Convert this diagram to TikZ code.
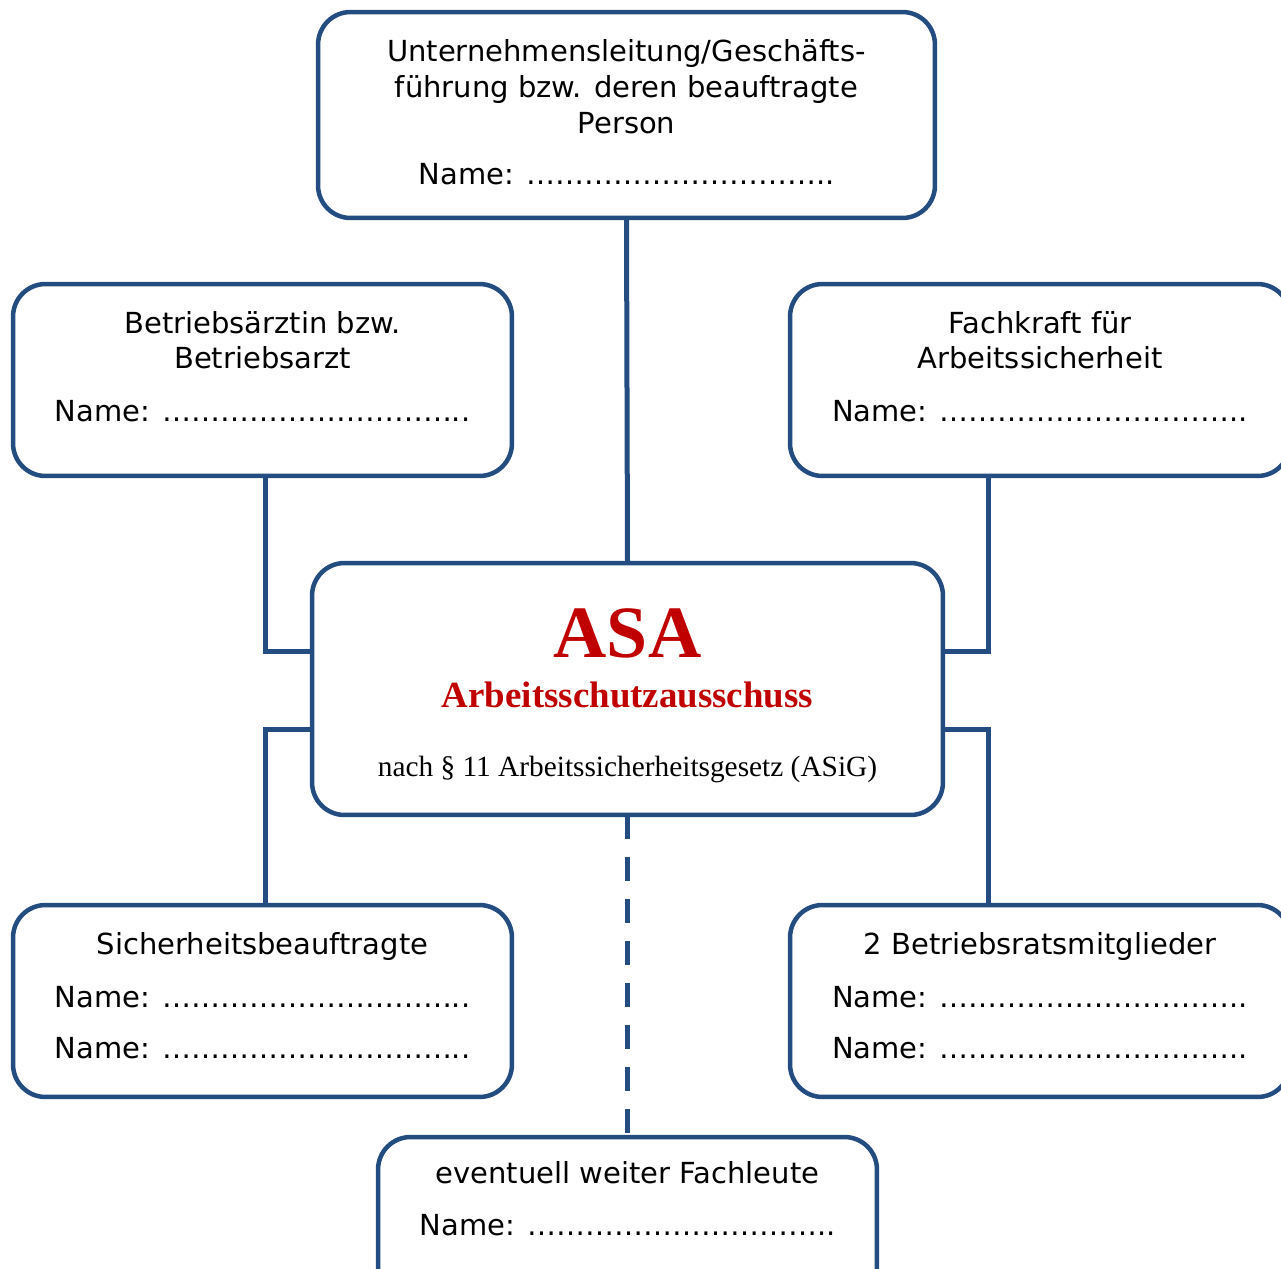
\documentclass[tikz,border=0pt]{standalone}
\usepackage{fontspec}
\setmainfont{DejaVu Sans}
\newfontfamily\timesfont{Liberation Serif}
\definecolor{asablau}{HTML}{234C80}
\definecolor{asarot}{HTML}{C00000}
\tikzset{
  kasten/.style={draw=asablau, line width=0.09cm, rounded corners=0.65cm, fill=white, inner sep=0pt, outer sep=0pt},
  verb/.style={draw=asablau, line width=0.1cm},
  txt/.style={anchor=base, inner sep=0pt, font=\fontsize{16.5}{20}\selectfont},
}
\newcommand{\linie}{Name: \foreach\k in {1,...,10}{\char"2026}..}
\begin{document}
\begin{tikzpicture}[x=0.02cm, y=-0.02cm]
    \useasboundingbox (0,0) rectangle (1281,1268);
    \clip (0,0) rectangle (1281,1268);
    % Kaesten
    \node[kasten, minimum width=12.34cm, minimum height=4.12cm] (leitung) at (626.5,115) {};
    \node[kasten, minimum width=9.98cm, minimum height=3.84cm] (arzt) at (262.5,380) {};
    \node[kasten, minimum width=10cm, minimum height=3.84cm] (fkraft) at (1040,380) {};
    \node[kasten, minimum width=12.62cm, minimum height=5.04cm] (asa) at (627.5,689) {};
    \node[kasten, minimum width=9.98cm, minimum height=3.84cm] (sib) at (262.5,1001) {};
    \node[kasten, minimum width=10cm, minimum height=3.84cm] (brat) at (1040,1001) {};
    \node[kasten, minimum width=9.98cm, minimum height=3.84cm] (fachl) at (627.5,1233) {};
    % Verbindungen
    \draw[verb] (leitung.south) -- (asa.north);
    \draw[verb] ([xshift=0.05cm]arzt.south) |- ([yshift=0.76cm]asa.west);
    \draw[verb] ([xshift=-1.04cm]fkraft.south) |- ([yshift=0.76cm]asa.east);
    \draw[verb] ([yshift=-0.8cm]asa.west) -| ([xshift=0.05cm]sib.north);
    \draw[verb] ([yshift=-0.8cm]asa.east) -| ([xshift=-1.04cm]brat.north);
    \draw[verb, dash pattern=on 0.48cm off 0.36cm] (asa.south) -- (fachl.north);
    % Texte
    \node[txt] (leitung1) at (626.5,61) {Unternehmensleitung/Geschäfts-};
    \node[txt] (leitung2) at (626.5,97) {führung bzw. deren beauftragte};
    \node[txt] (leitung3) at (626.5,133) {Person};
    \node[txt] (leitungN) at (626.5,184) {\linie};
    \node[txt] (arzt1) at (262.5,333) {Betriebsärztin bzw.};
    \node[txt] (arzt2) at (262.5,368) {Betriebsarzt};
    \node[txt] (arztN) at (262.5,421) {\linie};
    \node[txt] (fkraft1) at (1040,333) {Fachkraft für};
    \node[txt] (fkraft2) at (1040,368) {Arbeitssicherheit};
    \node[txt] (fkraftN) at (1040,421) {\linie};
    \node[txt, font=\timesfont\bfseries\fontsize{42}{42}\selectfont, text=asarot] (asa1) at (627.5,657) {ASA};
    \node[txt, font=\timesfont\bfseries\fontsize{21}{21}\selectfont, text=asarot] (asa2) at (627.5,707) {Arbeitsschutzausschuss};
    \node[txt, font=\timesfont\fontsize{16.7}{17}\selectfont] (asa3) at (627.5,776) {nach § 11 Arbeitssicherheitsgesetz (ASiG)};
    \node[txt] (sib1) at (262.5,954) {Sicherheitsbeauftragte};
    \node[txt] (sibN1) at (262.5,1007) {\linie};
    \node[txt] (sibN2) at (262.5,1058) {\linie};
    \node[txt] (brat1) at (1040,954) {2 Betriebsratsmitglieder};
    \node[txt] (bratN1) at (1040,1007) {\linie};
    \node[txt] (bratN2) at (1040,1058) {\linie};
    \node[txt] (fachl1) at (627.5,1183) {eventuell weiter Fachleute};
    \node[txt] (fachlN) at (627.5,1235) {\linie};
\end{tikzpicture}
\end{document}
